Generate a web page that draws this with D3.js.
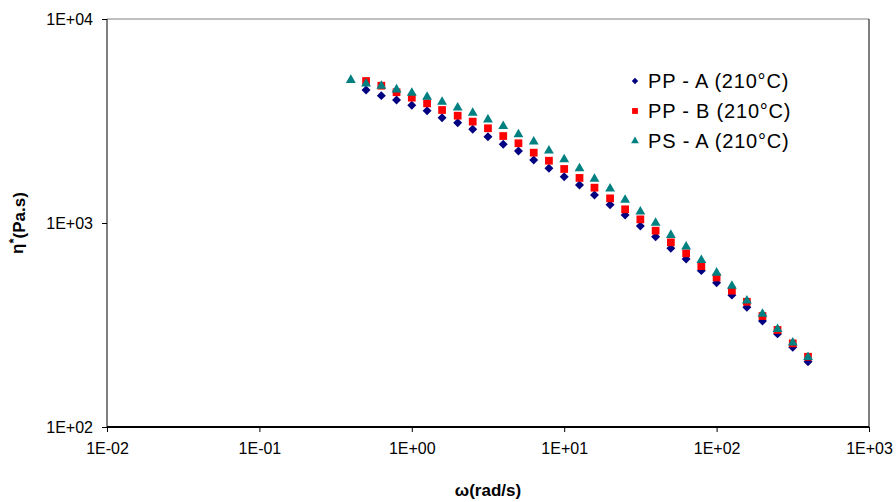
<!DOCTYPE html>
<html>
<head>
<meta charset="utf-8">
<script src="https://cdn.jsdelivr.net/npm/d3@7"></script>
<style>
  body { margin: 0; background: #fff; }
  svg { font-family: "Liberation Sans", Arial, sans-serif; }
</style>
</head>
<body>
<svg id="chart" width="896" height="502"></svg>
<script>
// frequency sweep, rad/s
var omegaPP = [0.501, 0.631, 0.794, 1, 1.26, 1.58, 2, 2.51, 3.16, 3.98, 5.01, 6.31, 7.94,
  10, 12.6, 15.8, 20, 25.1, 31.6, 39.8, 50.1, 63.1, 79.4, 100, 126, 158, 200, 251, 316, 398];
var omegaPS = [0.398].concat(omegaPP);

// complex viscosity, Pa.s
var etaPPA = [4490, 4210, 4010, 3776, 3550, 3281, 3103, 2878, 2648, 2431, 2254, 2038, 1854,
  1686, 1535, 1371, 1229, 1094, 967, 857, 752, 666, 584, 510, 443, 386, 331, 286, 246, 209];
var etaPPB = [4966, 4710, 4375, 4115, 3860, 3580, 3358, 3140, 2913, 2669, 2460, 2212, 2020,
  1840, 1663, 1490, 1321, 1167, 1042, 917, 804, 710, 615, 541, 466, 411, 350, 299, 257, 221];
var etaPSA = [5020, 4820, 4700, 4510, 4340, 4150, 3920, 3680, 3460, 3215, 2985, 2720, 2505,
  2262, 2050, 1853, 1644, 1475, 1297, 1136, 1002, 873, 765, 658, 570, 491, 416, 358, 302, 259, 220];

var seriesNames = ["PP - A (210°C)", "PP - B (210°C)", "PS - A (210°C)"];
var xTicks = [0.01, 0.1, 1, 10, 100, 1000];
var yTicks = [100, 1000, 10000];

var svg = d3.select("#chart"),
    margin = {top: 19, right: 27, bottom: 75, left: 107},
    width = +svg.attr("width") - margin.left - margin.right,
    height = +svg.attr("height") - margin.top - margin.bottom;

var x = d3.scaleLog().domain([0.01, 1000]).range([0, width]),
    y = d3.scaleLog().domain([100, 10000]).range([height, 0]);

function sciFormat(d) {
  var e = Math.round(Math.log10(d));
  return "1E" + (e < 0 ? "-" : "+") + (Math.abs(e) < 10 ? "0" : "") + Math.abs(e);
}

var g = svg.append("g").attr("transform", "translate(" + margin.left + "," + margin.top + ")");

// axes
var xAxis = g.append("g")
  .attr("transform", "translate(0," + height + ")")
  .call(d3.axisBottom(x).tickValues(xTicks).tickFormat(sciFormat).tickSize(5).tickPadding(11));
var yAxis = g.append("g")
  .call(d3.axisLeft(y).tickValues(yTicks).tickFormat(sciFormat).tickSize(5).tickPadding(9));

[xAxis, yAxis].forEach(function(a) {
  a.select(".domain").remove();
  a.selectAll("text").attr("fill", "#000").style("font-size", "16px").style("font-family", "Liberation Sans, Arial, sans-serif");
  a.selectAll("line").attr("stroke", "#000");
});
yAxis.selectAll("text").attr("dy", "0.34em");

// plot frame
g.append("line").attr("x1", 0).attr("x2", width).attr("y1", 0).attr("y2", 0).attr("stroke", "#808080");
g.append("line").attr("x1", width).attr("x2", width).attr("y1", 0).attr("y2", height).attr("stroke", "#000");
g.append("line").attr("x1", 0).attr("x2", 0).attr("y1", 0).attr("y2", height).attr("stroke", "#000");
g.append("line").attr("x1", 0).attr("x2", width).attr("y1", height).attr("y2", height).attr("stroke", "#000").attr("stroke-width", 2);

// markers (diamond = square turned 45deg)
var markers = [
  {name: seriesNames[0], xs: omegaPP, ys: etaPPA, color: "#000080", shape: d3.symbolSquare, rot: 45, size: 40, legSize: 20},
  {name: seriesNames[1], xs: omegaPP, ys: etaPPB, color: "#ff0000", shape: d3.symbolSquare, rot: 0, size: 60, legSize: 34},
  {name: seriesNames[2], xs: omegaPS, ys: etaPSA, color: "#008080", shape: d3.symbolTriangle, rot: 0, size: 42, legSize: 26}
];

markers.forEach(function(s) {
  g.append("g").selectAll("path")
    .data(s.xs.map(function(d, i) { return [d, s.ys[i]]; }))
    .enter().append("path")
    .attr("d", d3.symbol().type(s.shape).size(s.size))
    .attr("transform", function(d) { return "translate(" + x(d[0]) + "," + y(d[1]) + ") rotate(" + s.rot + ")"; })
    .attr("fill", s.color);
});

// legend
var legend = svg.append("g").attr("transform", "translate(635,81)");
markers.forEach(function(s, i) {
  var row = legend.append("g").attr("transform", "translate(0," + (i * 30) + ")");
  row.append("path")
    .attr("d", d3.symbol().type(s.shape).size(s.legSize))
    .attr("transform", "rotate(" + s.rot + ")")
    .attr("fill", s.color);
  row.append("text")
    .attr("x", 13)
    .attr("dy", "0.36em")
    .style("font-size", "20px")
    .style("letter-spacing", "0.8px")
    .text(s.name);
});

// axis titles
var yTitle = svg.append("text")
  .attr("transform", "translate(23," + (margin.top + height / 2) + ") rotate(-90)")
  .attr("text-anchor", "middle")
  .style("font-size", "17px")
  .style("font-weight", "bold");
yTitle.append("tspan").text("η");
yTitle.append("tspan").attr("dy", "-0.4em").style("font-size", "13px").text("*");
yTitle.append("tspan").attr("dy", "0.4em").text("(Pa.s)");

svg.append("text")
  .attr("x", margin.left + width / 2)
  .attr("y", 496)
  .attr("text-anchor", "middle")
  .style("font-size", "17px")
  .style("font-weight", "bold")
  .text("ω(rad/s)");
</script>
</body>
</html>
